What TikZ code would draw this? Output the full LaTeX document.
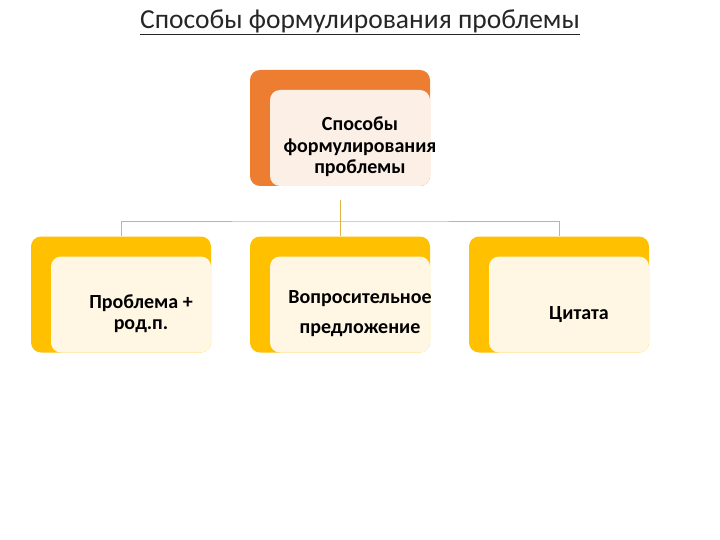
\documentclass[tikz,border=0pt]{standalone}
\usepackage{fontspec}
\setmainfont{Carlito}
\definecolor{boxorange}{HTML}{ED7D31}
\definecolor{boxyellow}{HTML}{FFC000}
\definecolor{topcream}{HTML}{FCEFE6}
\definecolor{lowcream}{HTML}{FFF7E3}
\definecolor{linkgold}{HTML}{E2B24A}
\begin{document}
\begin{tikzpicture}[x=1pt, y=-1pt,
  outerbox/.style={rectangle, rounded corners=10pt, minimum width=180pt, minimum height=116pt, inner sep=0pt},
  innerbox/.style={rectangle, rounded corners=10pt, minimum width=160pt, minimum height=96pt, inner sep=0pt, anchor=south east},
  label/.style={align=center, font=\fontsize{20}{21.5}\selectfont\bfseries, text=black},
  link/.style={draw=linkgold, line width=0.8pt}]
\useasboundingbox (0, 0) rectangle (720, 540);

\node[font=\fontsize{27.5}{30}\selectfont, text=black!85] (title) at (360, 22) {\underline{Способы формулирования проблемы}};

\node[outerbox, fill=boxorange] (top) at (340, 128) {};
\node[innerbox, fill=topcream] (top-in) at (top.south east) {};
\node[label] (top-t) at ([shift={(20, 19)}]top.center) {Способы\\формулирования\\проблемы};

\node[outerbox, fill=boxyellow] (b-0) at (121, 294.5) {};
\node[outerbox, fill=boxyellow] (b-1) at (340, 294.5) {};
\node[outerbox, fill=boxyellow] (b-2) at (559, 294.5) {};
\node[innerbox, fill=lowcream] (b-0-in) at (b-0.south east) {};
\node[innerbox, fill=lowcream] (b-1-in) at (b-1.south east) {};
\node[innerbox, fill=lowcream] (b-2-in) at (b-2.south east) {};

\node[label] (b-0-t) at ([shift={(20, 19)}]b-0.center) {Проблема +\\род.п.};
\node[label] (b-1-t) at ([shift={(20, 19)}]b-1.center) {Вопросительное\\[8.5pt]предложение};
\node[label] (b-2-t) at ([shift={(20, 20)}]b-2.center) {Цитата};

\coordinate (hub) at (340, 221);
\draw[link] ([yshift=-14pt]top.south) -- (hub);
\draw[link] (b-0.north) |- (hub) -| (b-2.north);
\draw[link] (hub) -- (b-1.north);
\end{tikzpicture}
\end{document}
